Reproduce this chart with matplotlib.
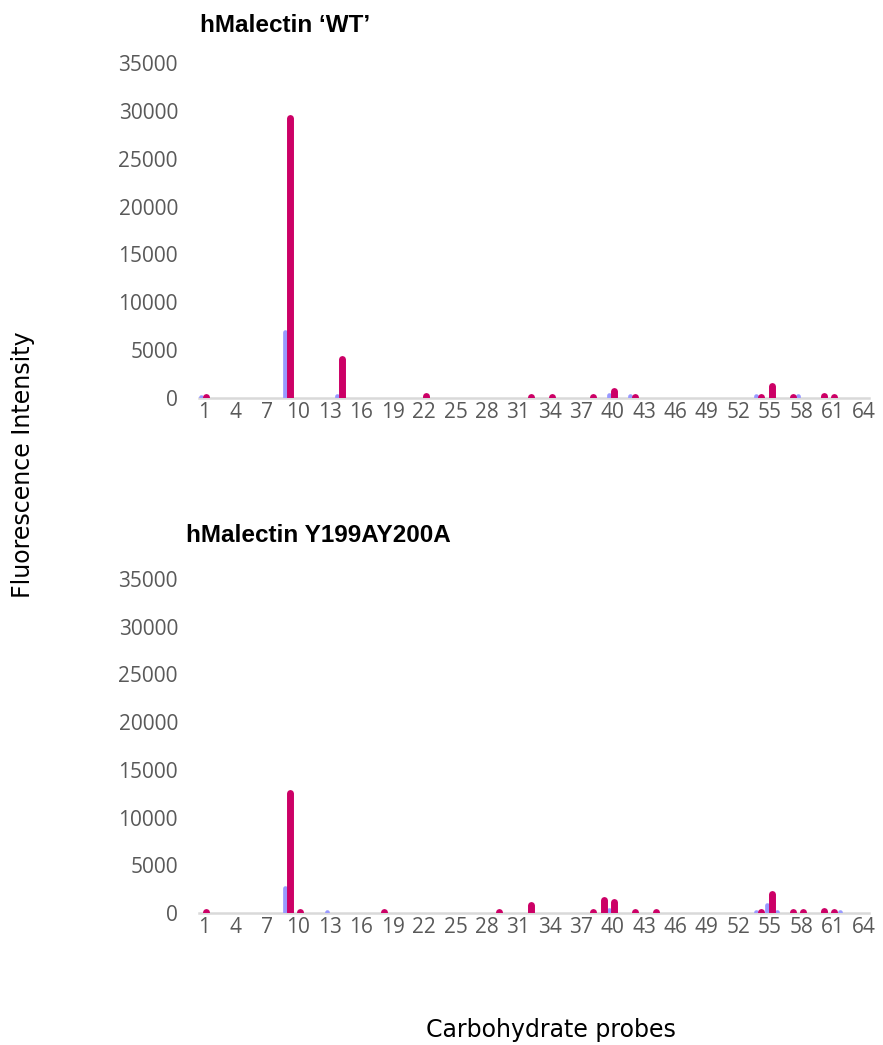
import matplotlib
matplotlib.use("Agg")
import matplotlib.pyplot as plt
import numpy as np

probes = list(range(1, 65))
tick_labels = [str(p) for p in range(1, 65, 3)]

# hMalectin 'WT'
wt_blue = [150, 0, 0, 0, 0, 0, 0, 0, 6850, 0,
           0, 0, 0, 250, 0, 0, 0, 0, 0, 0,
           0, 0, 0, 0, 0, 0, 0, 0, 0, 0,
           0, 0, 0, 0, 0, 0, 0, 0, 0, 350,
           0, 250, 0, 0, 0, 0, 0, 0, 0, 0,
           0, 0, 0, 250, 0, 0, 0, 250, 0, 0,
           0, 0, 0, 0]
wt_magenta = [120, 0, 0, 0, 0, 0, 0, 0, 29300, 0,
              0, 0, 0, 4100, 0, 0, 0, 0, 0, 0,
              0, 260, 0, 0, 0, 0, 0, 0, 0, 0,
              0, 120, 0, 120, 0, 0, 0, 120, 0, 780,
              0, 120, 0, 0, 0, 0, 0, 0, 0, 0,
              0, 0, 0, 150, 1300, 0, 120, 0, 0, 260,
              120, 0, 0, 0]

# hMalectin Y199AY200A
mut_blue = [0, 0, 0, 0, 0, 0, 0, 0, 2570, 0,
            0, 0, 120, 0, 0, 0, 0, 0, 0, 0,
            0, 0, 0, 0, 0, 0, 0, 0, 0, 0,
            0, 0, 0, 0, 0, 0, 0, 0, 0, 300,
            0, 0, 0, 0, 0, 0, 0, 0, 0, 0,
            0, 0, 0, 120, 790, 120, 0, 0, 0, 0,
            0, 120, 0, 0]
mut_magenta = [120, 0, 0, 0, 0, 0, 0, 0, 12600, 120,
               0, 0, 0, 0, 0, 0, 0, 120, 0, 0,
               0, 0, 0, 0, 0, 0, 0, 0, 120, 0,
               0, 890, 0, 0, 0, 0, 0, 120, 1310, 1200,
               0, 120, 0, 150, 0, 0, 0, 0, 0, 0,
               0, 0, 0, 150, 1940, 0, 120, 120, 0, 260,
               120, 0, 0, 0]

titles = ["hMalectin \u2018WT\u2019", "hMalectin Y199AY200A"]
ylabel = "Fluorescence Intensity"
xlabel = "Carbohydrate probes"

BLUE = "#9999FF"
MAGENTA = "#CC0066"
TICK_COLOR = "#595959"
AXIS_COLOR = "#D9D9D9"

fig = plt.figure(figsize=(8.83, 10.45), dpi=100)
W, H = 883, 1045

def add_axes_px(left, right, y0, ytop):
    return fig.add_axes([left / W, (H - y0) / H, (right - left) / W, (y0 - ytop) / H])

ax_top = add_axes_px(198.8, 869.2, 398, 63)
ax_bot = add_axes_px(198.8, 869.2, 913, 579)

def draw(ax, blue, mag):
    x = np.array(probes, dtype=float)
    b = np.array(blue, dtype=float)
    m = np.array(mag, dtype=float)
    mb = b > 0
    mm = m > 0
    lc1 = ax.vlines(x[mb] - 0.3, 0, b[mb], colors=BLUE, linewidth=3.4)
    lc1.set_capstyle("round")
    lc2 = ax.vlines(x[mm] + 0.18, 0, m[mm], colors=MAGENTA, linewidth=5.0)
    lc2.set_capstyle("round")
    ax.set_xlim(0.5, 64.5)
    ax.set_ylim(0, 35000)
    ax.set_yticks(np.arange(0, 35001, 5000))
    ax.set_yticklabels([str(v) for v in range(0, 35001, 5000)])
    ax.set_xticks(list(range(1, 65, 3)))
    ax.set_xticklabels(tick_labels)
    for s in ["top", "right", "left"]:
        ax.spines[s].set_visible(False)
    ax.spines["bottom"].set_color(AXIS_COLOR)
    ax.spines["bottom"].set_linewidth(1.8)
    ax.spines["bottom"].set_zorder(1)
    ax.tick_params(axis="both", length=0, colors=TICK_COLOR, labelsize=15)
    ax.tick_params(axis="y", pad=15)
    ax.tick_params(axis="x", pad=3)
    for lab in ax.get_xticklabels() + ax.get_yticklabels():
        lab.set_fontfamily("Open Sans")
    return ax

draw(ax_top, wt_blue, wt_magenta)
draw(ax_bot, mut_blue, mut_magenta)

fig.text(200 / W, 1 - 25 / H, titles[0], fontsize=17.5, fontweight="bold",
         family="Liberation Sans", color="black", va="center", ha="left")
fig.text(186 / W, 1 - 535 / H, titles[1], fontsize=17.5, fontweight="bold",
         family="Liberation Sans", color="black", va="center", ha="left")

fig.text(23 / W, 1 - 465 / H, ylabel, rotation=90, fontsize=17,
         family="DejaVu Sans", color="black", ha="center", va="center")
fig.text(551 / W, 1 - 1030 / H, xlabel, fontsize=17,
         family="DejaVu Sans", color="black", ha="center", va="center")

fig.savefig("out.png", dpi=100)
